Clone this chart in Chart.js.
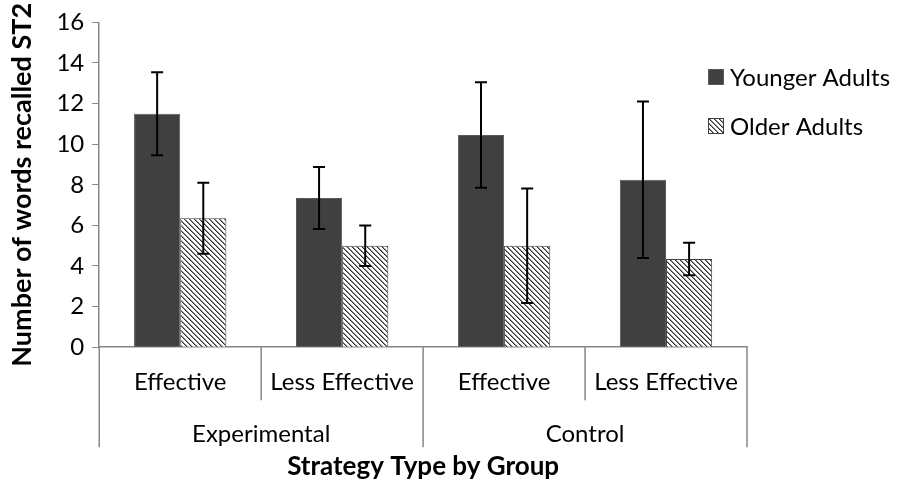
<!DOCTYPE html>
<html>
<head>
<meta charset="utf-8">
<script src="https://cdn.jsdelivr.net/npm/chart.js@4.4.0/dist/chart.umd.min.js"></script>
<style>
  html, body { margin: 0; padding: 0; background: #fff; }
  #wrap { position: relative; width: 897px; height: 483px; }
</style>
</head>
<body>
<div id="wrap"><canvas id="recallChart"></canvas></div>
<script>
// data
const strategies = ['Effective', 'Less Effective', 'Effective', 'Less Effective'];
const groups = ['Experimental', 'Control'];
const youngerMeans = [11.5, 7.35, 10.45, 8.25];
const youngerErrors = [2.05, 1.53, 2.6, 3.85];
const olderMeans = [6.35, 5.0, 5.0, 4.35];
const olderErrors = [1.75, 1.0, 2.82, 0.8];
const yTicks = [0, 2, 4, 6, 8, 10, 12, 14, 16];

const FONT = 'Lato, "Open Sans", sans-serif';
const AXIS_GREY = '#868686';

// diagonal hatch for the older adults bars
function makeHatch() {
    const c = document.createElement('canvas');
    c.width = 5; c.height = 5;
    const g = c.getContext('2d');
    g.fillStyle = '#fff';
    g.fillRect(0, 0, 5, 5);
    for (let y = 0; y < 5; y++) {
        g.fillStyle = '#333';
        g.fillRect(y % 5, y, 1, 1);
        g.fillStyle = '#8a8a8a';
        g.fillRect((y + 1) % 5, y, 1, 1);
    }
    return g.createPattern(c, 'repeat');
}
const hatch = makeHatch();

const errors = [youngerErrors, olderErrors];

// error bars drawn through the y scale
const errorBarPlugin = {
    id: 'errorBars',
    afterDatasetsDraw(chart) {
        const ctx = chart.ctx;
        const yScale = chart.scales.y;
        ctx.save();
        ctx.strokeStyle = '#000';
        ctx.lineWidth = 2;
        chart.data.datasets.forEach((ds, i) => {
            const meta = chart.getDatasetMeta(i);
            meta.data.forEach((bar, j) => {
                const v = ds.data[j], e = errors[i][j];
                const top = yScale.getPixelForValue(v + e);
                const bot = yScale.getPixelForValue(v - e);
                ctx.beginPath();
                ctx.moveTo(bar.x, top); ctx.lineTo(bar.x, bot);
                ctx.moveTo(bar.x - 6, top); ctx.lineTo(bar.x + 6, top);
                ctx.moveTo(bar.x - 6, bot); ctx.lineTo(bar.x + 6, bot);
                ctx.stroke();
            });
        });
        ctx.restore();
    }
};

// category dividers below the x axis (short inside a group, long between groups)
const dividerPlugin = {
    id: 'dividers',
    afterDraw(chart) {
        const x = chart.scales.x;
        const ctx = chart.ctx;
        const n = strategies.length;
        ctx.save();
        ctx.strokeStyle = AXIS_GREY;
        ctx.lineWidth = 1.5;
        for (let i = 0; i <= n; i++) {
            let px;
            if (i === 0) px = x.left;
            else if (i === n) px = x.right;
            else px = (x.getPixelForValue(i - 1) + x.getPixelForValue(i)) / 2;
            const isGroupEdge = i % 2 === 0;
            ctx.beginPath();
            ctx.moveTo(px, x.top);
            ctx.lineTo(px, x.top + (isGroupEdge ? 100 : 53));
            ctx.stroke();
        }
        ctx.restore();
    }
};

// legend sits inside the upper right of the plot, like the original
const legendPlugin = {
    id: 'cornerLegend',
    afterDraw(chart) {
        const { ctx, chartArea } = chart;
        const left = chartArea.right - 39;
        const top0 = 69;
        ctx.save();
        ctx.font = '24px ' + FONT;
        ctx.textBaseline = 'middle';
        chart.data.datasets.forEach((ds, i) => {
            const y = top0 + i * 49;
            ctx.fillStyle = ds.backgroundColor;
            ctx.fillRect(left, y, 16, 16);
            ctx.strokeStyle = ds.borderColor;
            ctx.lineWidth = 1;
            ctx.strokeRect(left + 0.5, y + 0.5, 15, 15);
            ctx.fillStyle = '#000';
            ctx.fillText(ds.label, left + 22, y + 9);
        });
        ctx.restore();
    }
};

Chart.defaults.font.family = FONT;
Chart.defaults.color = '#000';

const ctx = document.getElementById('recallChart').getContext('2d');
new Chart(ctx, {
    type: 'bar',
    data: {
        labels: strategies,
        datasets: [{
            label: 'Younger Adults',
            data: youngerMeans,
            backgroundColor: '#404040',
            borderColor: '#5a5a5a',
            borderWidth: 1
        }, {
            label: 'Older Adults',
            data: olderMeans,
            backgroundColor: hatch,
            borderColor: '#404040',
            borderWidth: 1
        }]
    },
    options: {
        responsive: true,
        maintainAspectRatio: false,
        animation: false,
        layout: {
            padding: { left: 6, right: 150, top: 12, bottom: 1 }
        },
        datasets: {
            bar: { barPercentage: 1, categoryPercentage: 0.57 }
        },
        plugins: {
            legend: { display: false },
            tooltip: { enabled: false }
        },
        scales: {
            y: {
                min: 0,
                max: 16,
                afterBuildTicks: (scale) => { scale.ticks = yTicks.map(v => ({ value: v })); },
                grid: { drawOnChartArea: false, color: AXIS_GREY, tickLength: 7 },
                border: { color: AXIS_GREY, width: 1.5 },
                ticks: { font: { size: 24 }, padding: 8 },
                title: {
                    display: true,
                    text: 'Number of words recalled ST2',
                    font: { size: 27, weight: 'bold' },
                    padding: { top: 0, bottom: 10 }
                }
            },
            x: {
                offset: true,
                grid: { display: false, drawTicks: false },
                border: { color: AXIS_GREY, width: 1.5 },
                ticks: { font: { size: 24 }, padding: 21, maxRotation: 0, autoSkip: false }
            },
            x2: {
                type: 'category',
                position: 'bottom',
                labels: groups,
                offset: true,
                grid: { display: false, drawTicks: false },
                border: { display: false },
                ticks: { font: { size: 24 }, padding: 2, maxRotation: 0 },
                title: {
                    display: true,
                    text: 'Strategy Type by Group',
                    font: { size: 26, weight: 'bold' },
                    padding: { top: 0, bottom: 0 }
                }
            }
        }
    },
    plugins: [errorBarPlugin, dividerPlugin, legendPlugin]
});
</script>
</body>
</html>
